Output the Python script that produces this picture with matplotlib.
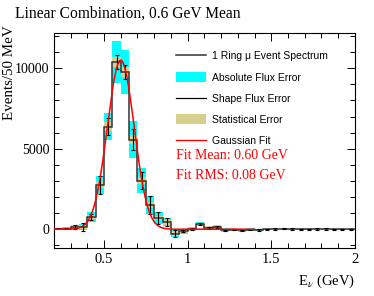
"""1 Ring mu スペクトルの線形結合 (0.6 GeV Mean) を描くスクリプト"""

import numpy as np
import matplotlib
matplotlib.use("Agg")
import matplotlib.pyplot as plt
from matplotlib.lines import Line2D
from matplotlib.patches import Patch
from matplotlib.ticker import MultipleLocator

plt.rcParams["font.family"] = ["Liberation Serif", "DejaVu Serif"]
plt.rcParams["mathtext.fontset"] = "stix"

# ビン (50 MeV 幅, 0.2 - 2.0 GeV)
bin_edges = np.round(np.arange(0.2, 2.0001, 0.05), 3)

# 1 Ring mu Event Spectrum (Events/50 MeV)
events = [30, 40, 140, 140, 760, 2750, 6380, 10390, 9760, 5570,
          3020, 1500, 700, 430, -270, -120, 20, 300, 100, 140,
          -60, -20, -60, -30, -40, -10, 20, 30, 10, 0,
          -10, 20, 10, -10, 0, 0]

# 誤差 (半幅)
abs_flux_err = [60, 80, 130, 160, 330, 560, 830, 1280, 1380, 1130,
                770, 560, 380, 260, 200, 150, 130, 130, 120, 120,
                110, 100, 90, 80, 40, 40, 30, 30, 30, 30,
                30, 30, 30, 30, 30, 30]
stat_err = [50, 60, 90, 110, 150, 220, 280, 330, 320, 260,
            200, 170, 150, 140, 130, 120, 110, 110, 100, 100,
            90, 90, 80, 70, 30, 30, 30, 30, 30, 30,
            30, 30, 30, 30, 30, 30]
shape_err = [30, 50, 120, 250, 200, 550, 500, 450, 450, 650,
             550, 550, 350, 250, 200, 80, 50, 60, 60, 50,
             40, 40, 40, 40, 40, 40, 40, 40, 40, 40,
             40, 40, 40, 40, 40, 40]

# ガウスフィット
FIT_MEAN = 0.60
FIT_SIGMA = 0.08
FIT_AMP = 10500
FIT_RANGE = (0.2, 1.4)

CYAN = "#00ffff"
TAN = "#d6d08c"


def main() -> None:
    edges = bin_edges
    centers = 0.5 * (edges[:-1] + edges[1:])
    width = edges[1] - edges[0]
    v = np.array(events, dtype=float)
    ea = np.array(abs_flux_err, dtype=float)
    es = np.array(stat_err, dtype=float)
    eh = np.array(shape_err, dtype=float)

    fig = plt.figure(figsize=(3.74, 2.96), dpi=100)
    ax = fig.add_axes([0.144, 0.162, 0.805, 0.727])

    ax.bar(centers, 2 * ea, bottom=v - ea, width=width, color=CYAN, linewidth=0, zorder=1)
    ax.bar(centers, 2 * es, bottom=v - es, width=width, color=TAN, linewidth=0, zorder=2)
    ax.stairs(v, edges, color="#333333", linewidth=1.1, zorder=3)
    ax.errorbar(centers, v, yerr=eh, fmt="none", ecolor="black", elinewidth=0.8,
                capsize=1.3, capthick=0.8, zorder=4)

    xf = np.linspace(FIT_RANGE[0], FIT_RANGE[1], 400)
    yf = FIT_AMP * np.exp(-0.5 * ((xf - FIT_MEAN) / FIT_SIGMA) ** 2)
    ax.plot(xf, yf, color="red", linewidth=1.1, zorder=5)

    ax.set_xlim(0.2, 2.0)
    ax.set_ylim(-1170, 12200)
    ax.set_xticks([0.5, 1, 1.5, 2])
    ax.set_xticklabels(["0.5", "1", "1.5", "2"])
    ax.set_yticks([0, 5000, 10000])
    ax.xaxis.set_minor_locator(MultipleLocator(0.1))
    ax.yaxis.set_minor_locator(MultipleLocator(1000))
    ax.tick_params(which="both", direction="in", top=True, right=True, labelsize=10.5)
    ax.tick_params(axis="y", labelsize=10, pad=3)
    ax.tick_params(which="major", length=6, width=0.7)
    ax.tick_params(which="minor", length=3.5, width=0.7)
    for s in ax.spines.values():
        s.set_linewidth(0.8)

    ax.set_ylabel("Events/50 MeV", fontsize=10.8, ha="right")
    ax.yaxis.set_label_coords(-0.126, 1.035)
    ax.set_xlabel(r"E$_{\nu}$ (GeV)", fontsize=10.5, ha="right")
    ax.xaxis.set_label_coords(1.0, -0.115)
    fig.text(0.04, 0.955, "Linear Combination, 0.6 GeV Mean", fontsize=11.2, va="center")

    handles = [
        Line2D([], [], color="#333333", linewidth=1.1),
        Patch(facecolor=CYAN, edgecolor="none"),
        Line2D([], [], color="black", linewidth=0.9),
        Patch(facecolor=TAN, edgecolor="none"),
        Line2D([], [], color="red", linewidth=1.0),
    ]
    labels = ["1 Ring \u03bc Event Spectrum", "Absolute Flux Error", "Shape Flux Error",
              "Statistical Error", "Gaussian Fit"]
    ax.legend(handles, labels, loc="upper left", bbox_to_anchor=(0.38, 0.95),
              frameon=False, prop={"family": "Liberation Sans", "size": 7.5},
              handlelength=2.9, handleheight=1.1, handletextpad=0.6,
              labelspacing=1.02, borderpad=0.2)

    ax.text(0.405, 0.43, "Fit Mean: 0.60 GeV", transform=ax.transAxes, color="red",
            fontsize=10, va="center")
    ax.text(0.405, 0.335, "Fit RMS: 0.08 GeV", transform=ax.transAxes, color="red",
            fontsize=10, va="center")

    fig.savefig("out.png", dpi=100)


if __name__ == "__main__":
    main()
